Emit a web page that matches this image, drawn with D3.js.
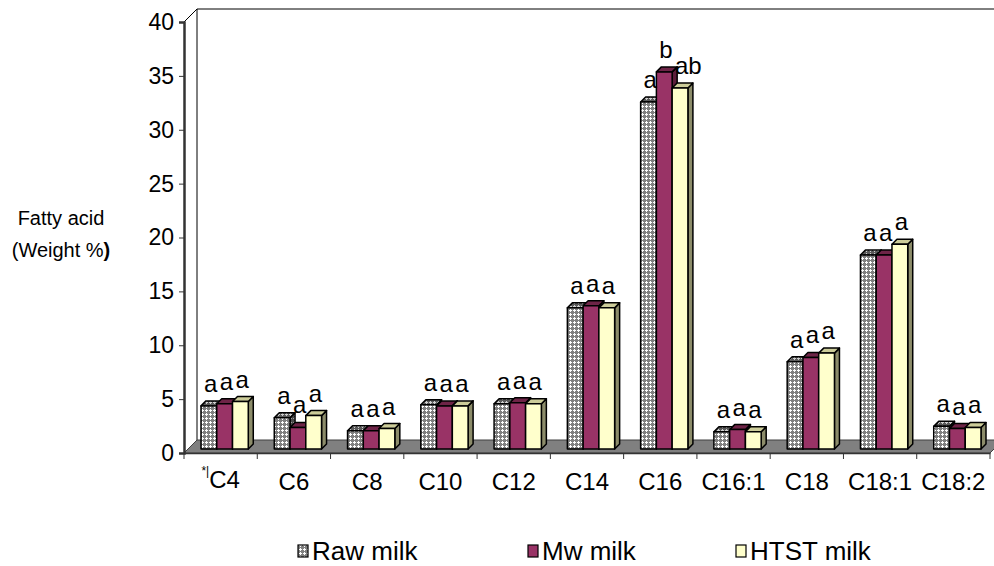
<!DOCTYPE html>
<html>
<head>
<meta charset="utf-8">
<script src="https://cdn.jsdelivr.net/npm/d3@7"></script>
<style>
  body { margin: 0; background: #fff; }
  svg text { font-family: Arial, "Liberation Sans", sans-serif; fill: #000; }
</style>
</head>
<body>
<div id="chart"></div>
<script>
// fatty acids on the x axis
var categories = ["C4", "C6", "C8", "C10", "C12", "C14", "C16", "C16:1", "C18", "C18:1", "C18:2"];

// series
var seriesNames = ["Raw milk", "Mw milk", "HTST milk"];
var rawMilk  = [4.0, 2.9, 1.7, 4.1, 4.2, 13.1, 32.2, 1.6, 8.1, 18.0, 2.1];
var mwMilk   = [4.2, 2.0, 1.7, 4.0, 4.3, 13.3, 35.0, 1.8, 8.5, 18.0, 1.9];
var htstMilk = [4.4, 3.1, 1.9, 4.0, 4.2, 13.1, 33.5, 1.6, 8.9, 19.0, 2.0];

// significance letters over each bar
var rawLetters  = ["a", "a", "a", "a", "a", "a", "a", "a", "a", "a", "a"];
var mwLetters   = ["a", "a", "a", "a", "a", "a", "b", "a", "a", "a", "a"];
var htstLetters = ["a", "a", "a", "a", "a", "a", "ab", "a", "a", "a", "a"];

var yTicks = [0, 5, 10, 15, 20, 25, 30, 35, 40];

var W = 994, H = 566;
var margin = { left: 184, top: 22 },
  plotRight = 990,
  plotBottom = 453;

var svg = d3.select("#chart")
  .append("svg")
  .attr("width", W)
  .attr("height", H);

// textures and colours
var defs = svg.append("defs");
function checker(id, bg, fg) {
  var p = defs.append("pattern")
    .attr("id", id)
    .attr("patternUnits", "userSpaceOnUse")
    .attr("width", 4).attr("height", 4);
  p.append("rect").attr("width", 4).attr("height", 4).attr("fill", bg);
  [[2, 1], [1, 2], [2, 2], [3, 2], [2, 3]].forEach(function(c) {
    p.append("rect").attr("x", c[0]).attr("y", c[1]).attr("width", 1).attr("height", 1).attr("fill", fg);
  });
}
checker("rawFront", "#808080", "#ffffff");
checker("rawSide", "#4a4a4a", "#a0a0a0");
checker("rawTop", "#5a5a5a", "#d0d0d0");

var faces = [
  { front: "url(#rawFront)", top: "url(#rawTop)", side: "url(#rawSide)" },
  { front: "#993366", top: "#6e2447", side: "#5c1e3b" },
  { front: "#ffffcc", top: "#cccc99", side: "#8c8c6a" }
];

var depth = 13;      // wall depth (px, along x and up)
var z0 = 4, zd = 5;  // bar front offset and bar depth

var x = d3.scaleBand()
  .domain(categories)
  .range([margin.left, plotRight])
  .padding(0);

var y = d3.scaleLinear()
  .domain([0, 40])
  .range([plotBottom, margin.top]);

var xSub = d3.scaleBand()
  .domain(seriesNames)
  .range([13, x.bandwidth() - 13])
  .padding(0);

// walls
var wallRight = 1010;
svg.append("path")
  .attr("d", "M" + margin.left + "," + y(40) + "L" + (margin.left + depth) + "," + (y(40) - depth) +
    "L" + wallRight + "," + (y(40) - depth))
  .attr("fill", "none").attr("stroke", "#000").attr("stroke-width", 1);
svg.append("line")
  .attr("x1", margin.left + depth).attr("x2", margin.left + depth)
  .attr("y1", y(40) - depth).attr("y2", y(0) - depth)
  .attr("stroke", "#000").attr("stroke-width", 1);

// floor
svg.append("path")
  .attr("d", "M" + margin.left + "," + y(0) + "L" + plotRight + "," + y(0) +
    "L" + (plotRight + depth) + "," + (y(0) - depth) + "L" + (margin.left + depth) + "," + (y(0) - depth) + "Z")
  .attr("fill", "#808080")
  .attr("stroke", "#404040").attr("stroke-width", 1);

// y axis
var yAxis = svg.append("g")
  .attr("transform", "translate(" + margin.left + ",0)")
  .call(d3.axisLeft(y).tickValues(yTicks).tickSize(5).tickPadding(5));
yAxis.select(".domain").attr("stroke", "#333").attr("stroke-width", 2.5);
yAxis.selectAll(".tick line").attr("stroke", "#333");
yAxis.selectAll("text")
  .style("font-size", "23px")
  .style("font-family", "Arial, 'Liberation Sans', sans-serif")
  .attr("fill", "#000");

// x axis
var xAxis = svg.append("g")
  .attr("transform", "translate(0," + y(0) + ")")
  .call(d3.axisBottom(x).tickSize(0).tickPadding(20));
xAxis.select(".domain").attr("stroke", "#333").attr("stroke-width", 1.5);
xAxis.selectAll("text")
  .style("font-size", "24px")
  .style("font-family", "Arial, 'Liberation Sans', sans-serif")
  .attr("fill", "#000");
xAxis.selectAll(".tick")
  .filter(function(d) { return d === "C4"; })
  .select("text")
  .text("")
  .call(function(t) {
    t.append("tspan").attr("font-size", "12px").attr("dy", "0.2em").text("*|");
    t.append("tspan").attr("dy", "0.51em").text("C4");
  });
// boundary ticks
svg.append("g")
  .selectAll("line")
  .data(categories.concat(["end"]))
  .enter().append("line")
  .attr("x1", function(d, i) { return margin.left + i * x.bandwidth(); })
  .attr("x2", function(d, i) { return margin.left + i * x.bandwidth(); })
  .attr("y1", y(0))
  .attr("y2", y(0) + 6)
  .attr("stroke", "#333");

// bars
var series = [rawMilk, mwMilk, htstMilk];
var letters = [rawLetters, mwLetters, htstLetters];
var bars = [];
categories.forEach(function(c, i) {
  seriesNames.forEach(function(s, j) {
    bars.push({ cat: c, s: s, j: j, value: series[j][i], letter: letters[j][i] });
  });
});

var barG = svg.append("g");
bars.forEach(function(d) {
  var x0 = x(d.cat) + xSub(d.s) + z0,
    x1 = x0 + xSub.bandwidth(),
    top = y(d.value) - z0,
    bot = y(0) - z0;
  var g = barG.append("g")
    .attr("stroke", "#000")
    .attr("stroke-width", 1.5)
    .attr("stroke-linejoin", "round");
  g.append("path")
    .attr("d", "M" + x1 + "," + top + "L" + (x1 + zd) + "," + (top - zd) + "L" + (x1 + zd) + "," + (bot - zd) + "L" + x1 + "," + bot + "Z")
    .attr("fill", faces[d.j].side);
  g.append("path")
    .attr("d", "M" + x0 + "," + top + "L" + x1 + "," + top + "L" + (x1 + zd) + "," + (top - zd) + "L" + (x0 + zd) + "," + (top - zd) + "Z")
    .attr("fill", faces[d.j].top);
  g.append("rect")
    .attr("x", x0).attr("y", top)
    .attr("width", x1 - x0).attr("height", bot - top)
    .attr("fill", faces[d.j].front);
});

// letters (start-anchored so "ab" runs to the right like the original)
svg.append("g")
  .selectAll("text")
  .data(bars)
  .enter().append("text")
  .attr("x", function(d) { return x(d.cat) + xSub(d.s) + z0 + xSub.bandwidth() / 2 - 5; })
  .attr("y", function(d) { return y(d.value) - z0 - zd - 9; })
  .style("font-size", "24px")
  .text(function(d) { return d.letter; });

// y title
var yt = svg.append("text")
  .attr("text-anchor", "middle")
  .style("font-size", "20px");
yt.append("tspan").attr("x", 61).attr("y", 225).text("Fatty acid");
yt.append("tspan").attr("x", 61).attr("y", 257).text("(Weight %")
  .append("tspan").attr("font-weight", "bold").text(")");

// legend
var legendX = [298, 528, 736];
var legend = svg.append("g")
  .selectAll("g")
  .data(seriesNames)
  .enter().append("g")
  .attr("transform", function(d, i) { return "translate(" + legendX[i] + ",551)"; });
legend.append("rect")
  .attr("x", 0).attr("y", -6)
  .attr("width", 10).attr("height", 12)
  .attr("fill", function(d, i) { return faces[i].front; })
  .attr("stroke", "#000").attr("stroke-width", 1.2);
legend.append("text")
  .attr("x", 14).attr("y", 9)
  .style("font-size", "26px")
  .text(function(d) { return d; });
</script>
</body>
</html>
